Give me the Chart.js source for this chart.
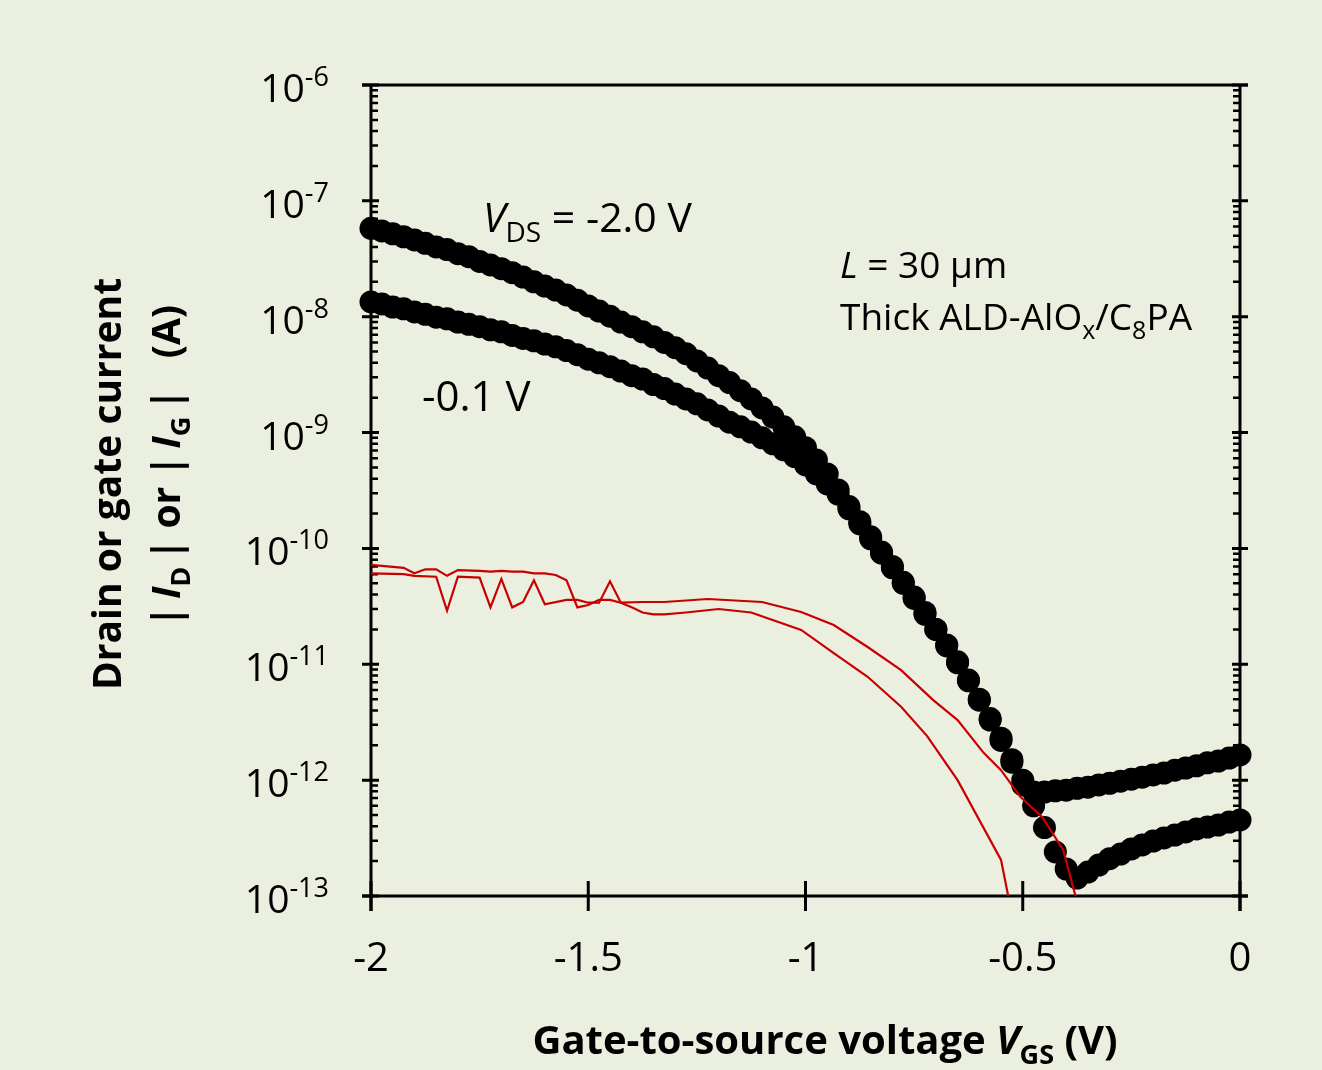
<!DOCTYPE html>
<html>
<head>
<meta charset="utf-8">
<script src="https://cdn.jsdelivr.net/npm/chart.js@4.4.0/dist/chart.umd.min.js"></script>
<style>
  html, body { margin: 0; padding: 0; background: #ebefdf; }
  #wrap { width: 1322px; height: 1070px; }
</style>
</head>
<body>
<div id="wrap"><canvas id="chart" width="1322" height="1070"></canvas></div>
<script>
// gate-to-source voltage sweep (V)
const vgs = [
  -2, -1.975, -1.95, -1.925, -1.9, -1.875, -1.85, -1.825, -1.8, -1.775,
  -1.75, -1.725, -1.7, -1.675, -1.65, -1.625, -1.6, -1.575, -1.55, -1.525,
  -1.5, -1.475, -1.45, -1.425, -1.4, -1.375, -1.35, -1.325, -1.3, -1.275,
  -1.25, -1.225, -1.2, -1.175, -1.15, -1.125, -1.1, -1.075, -1.05, -1.025,
  -1, -0.975, -0.95, -0.925, -0.9, -0.875, -0.85, -0.825, -0.8, -0.775,
  -0.75, -0.725, -0.7, -0.675, -0.65, -0.625, -0.6, -0.575, -0.55, -0.525,
  -0.5, -0.475, -0.45, -0.425, -0.4, -0.375, -0.35, -0.325, -0.3, -0.275,
  -0.25, -0.225, -0.2, -0.175, -0.15, -0.125, -0.1, -0.075, -0.05, -0.025,
  0,
];

// |ID| at VDS = -2.0 V (A)
const idVds2 = [
  5.8e-8, 5.5e-8, 5.2e-8, 4.9e-8, 4.6e-8, 4.3e-8, 4.0e-8, 3.8e-8, 3.5e-8, 3.3e-8,
  3.0e-8, 2.8e-8, 2.6e-8, 2.4e-8, 2.2e-8, 2.0e-8, 1.84e-8, 1.7e-8, 1.54e-8, 1.39e-8,
  1.24e-8, 1.12e-8, 1.01e-8, 9.0e-9, 8.2e-9, 7.4e-9, 6.7e-9, 6.0e-9, 5.4e-9, 4.8e-9,
  4.15e-9, 3.6e-9, 3.1e-9, 2.7e-9, 2.3e-9, 1.95e-9, 1.63e-9, 1.36e-9, 1.12e-9, 9.2e-10,
  7.4e-10, 5.8e-10, 4.4e-10, 3.2e-10, 2.3e-10, 1.7e-10, 1.26e-10, 9.3e-11, 7.0e-11, 5.1e-11,
  3.8e-11, 2.8e-11, 2.0e-11, 1.47e-11, 1.05e-11, 7.3e-12, 5.0e-12, 3.4e-12, 2.3e-12, 1.5e-12,
  1.0e-12, 7.9e-13, 7.9e-13, 8.1e-13, 8.2e-13, 8.5e-13, 8.7e-13, 9.1e-13, 9.4e-13, 9.8e-13,
  1.02e-12, 1.06e-12, 1.11e-12, 1.15e-12, 1.22e-12, 1.27e-12, 1.33e-12, 1.41e-12, 1.46e-12, 1.55e-12,
  1.65e-12,
];

// |ID| at VDS = -0.1 V (A)
const idVds01 = [
  1.34e-8, 1.29e-8, 1.21e-8, 1.17e-8, 1.1e-8, 1.05e-8, 9.9e-9, 9.6e-9, 9.0e-9, 8.6e-9,
  8.2e-9, 7.7e-9, 7.4e-9, 6.9e-9, 6.5e-9, 6.2e-9, 5.8e-9, 5.5e-9, 5.1e-9, 4.7e-9,
  4.3e-9, 4.0e-9, 3.7e-9, 3.4e-9, 3.1e-9, 2.9e-9, 2.6e-9, 2.4e-9, 2.15e-9, 1.95e-9,
  1.77e-9, 1.57e-9, 1.39e-9, 1.23e-9, 1.12e-9, 1.01e-9, 9.0e-10, 8.0e-10, 7.1e-10, 6.2e-10,
  5.25e-10, 4.4e-10, 3.6e-10, 2.95e-10, 2.2e-10, 1.63e-10, 1.21e-10, 9.1e-11, 6.8e-11, 5.0e-11,
  3.7e-11, 2.7e-11, 2.0e-11, 1.44e-11, 1.03e-11, 7.2e-12, 4.9e-12, 3.3e-12, 2.2e-12, 1.43e-12,
  9.1e-13, 6.0e-13, 3.9e-13, 2.4e-13, 1.71e-13, 1.43e-13, 1.61e-13, 1.85e-13, 2.1e-13, 2.3e-13,
  2.55e-13, 2.76e-13, 2.98e-13, 3.17e-13, 3.36e-13, 3.57e-13, 3.79e-13, 3.94e-13, 4.1e-13, 4.35e-13,
  4.53e-13,
];

// |IG| traces (noisy gate leakage), own voltage points
const vgGateA = [
  -2, -1.925, -1.9, -1.85, -1.825, -1.8, -1.75, -1.725, -1.7, -1.675,
  -1.65, -1.625, -1.6, -1.55, -1.525, -1.5, -1.475, -1.45, -1.425, -1.375,
  -1.325, -1.225, -1.1, -1.01, -0.935, -0.857, -0.78, -0.706, -0.65, -0.59,
  -0.55, -0.505, -0.455, -0.407, -0.378, -0.372,
];
const igGateA = [
  6.1e-11, 6.0e-11, 5.8e-11, 5.7e-11, 2.9e-11, 5.7e-11, 5.6e-11, 3.1e-11, 5.45e-11, 3.1e-11,
  3.45e-11, 5.3e-11, 3.3e-11, 3.6e-11, 3.6e-11, 3.4e-11, 3.4e-11, 5.2e-11, 3.4e-11, 3.45e-11,
  3.45e-11, 3.66e-11, 3.45e-11, 2.83e-11, 2.18e-11, 1.41e-11, 8.9e-12, 4.9e-12, 3.3e-12, 1.72e-12,
  1.22e-12, 7.15e-13, 4.8e-13, 2.5e-13, 9.8e-14, 6.9e-14,
];
const vgGateB = [
  -2, -1.925, -1.9, -1.875, -1.85, -1.825, -1.8, -1.75, -1.725, -1.7,
  -1.675, -1.65, -1.625, -1.6, -1.575, -1.55, -1.525, -1.5, -1.475, -1.45,
  -1.425, -1.4, -1.375, -1.35, -1.325, -1.275, -1.2, -1.125, -1.01, -0.935,
  -0.857, -0.78, -0.72, -0.65, -0.55, -0.533, -0.525,
];
const igGateB = [
  7.2e-11, 6.8e-11, 6.1e-11, 6.6e-11, 6.6e-11, 5.8e-11, 6.5e-11, 6.4e-11, 6.3e-11, 6.4e-11,
  6.3e-11, 6.3e-11, 6.1e-11, 6.1e-11, 5.9e-11, 5.3e-11, 3.1e-11, 3.25e-11, 3.6e-11, 3.6e-11,
  3.4e-11, 3.1e-11, 2.8e-11, 2.7e-11, 2.7e-11, 2.8e-11, 3.0e-11, 2.8e-11, 1.98e-11, 1.25e-11,
  7.8e-12, 4.3e-12, 2.4e-12, 1.0e-12, 2.05e-13, 9.8e-14, 6.2e-14,
];

const xTicks = [-2, -1.5, -1, -0.5, 0];
const yExponents = [-6, -7, -8, -9, -10, -11, -12, -13];

const BG = "#ebefdf";
const RED = "#c80000";
const FONT = "'Open Sans', 'DejaVu Sans', sans-serif";

function pairs(xs, ys) {
  return xs.map((v, i) => ({ x: v, y: ys[i] }));
}

// draw a run of text pieces (for italics, sub- and superscripts)
function drawRich(ctx, parts, x, y, align) {
  let w = 0;
  for (const p of parts) {
    ctx.font = p.f;
    w += ctx.measureText(p.t).width;
  }
  let cx = x;
  if (align === "center") cx = x - w / 2;
  if (align === "right") cx = x - w;
  for (const p of parts) {
    ctx.font = p.f;
    ctx.fillText(p.t, cx, y + (p.dy || 0));
    cx += ctx.measureText(p.t).width;
  }
}

const decor = {
  id: "decor",
  beforeDraw(chart) {
    const ctx = chart.ctx;
    ctx.save();
    ctx.fillStyle = BG;
    ctx.fillRect(0, 0, chart.width, chart.height);
    ctx.restore();
  },
  beforeDatasetsDraw(chart) {
    const { ctx, chartArea: a, scales } = chart;
    const xs = scales.x;
    const ys = scales.y;
    ctx.save();
    ctx.strokeStyle = "#000";
    ctx.lineCap = "butt";
    // frame
    ctx.lineWidth = 3;
    ctx.beginPath();
    ctx.moveTo(a.left - 9, a.top); ctx.lineTo(a.right + 8, a.top);
    ctx.moveTo(a.left - 9, a.bottom); ctx.lineTo(a.right + 8, a.bottom);
    ctx.moveTo(a.left, a.top); ctx.lineTo(a.left, a.bottom + 15);
    ctx.moveTo(a.right, a.top); ctx.lineTo(a.right, a.bottom + 15);
    ctx.stroke();
    // x ticks (crossing the bottom axis)
    ctx.beginPath();
    for (const v of xTicks) {
      const px = xs.getPixelForValue(v);
      ctx.moveTo(px, a.bottom - 15); ctx.lineTo(px, a.bottom + 15);
    }
    ctx.stroke();
    // y major ticks on both sides
    ctx.beginPath();
    for (const e of yExponents) {
      const py = ys.getPixelForValue(Math.pow(10, e));
      ctx.moveTo(a.left - 9, py); ctx.lineTo(a.left + 8, py);
      ctx.moveTo(a.right - 8, py); ctx.lineTo(a.right + 8, py);
    }
    ctx.stroke();
    // y minor ticks, inside only
    ctx.lineWidth = 2.5;
    ctx.beginPath();
    for (const e of yExponents.slice(1)) {
      for (let m = 2; m <= 9; m++) {
        const py = ys.getPixelForValue(m * Math.pow(10, e));
        ctx.moveTo(a.left, py); ctx.lineTo(a.left + 7, py);
        ctx.moveTo(a.right - 7, py); ctx.lineTo(a.right, py);
      }
    }
    ctx.stroke();
    ctx.restore();
  },
  afterDraw(chart) {
    const { ctx, scales } = chart;
    const ys = scales.y;
    ctx.save();
    ctx.fillStyle = "#000";
    ctx.textBaseline = "alphabetic";

    // y tick labels 10^n
    for (const e of yExponents) {
      const py = ys.getPixelForValue(Math.pow(10, e));
      drawRich(ctx, [
        { t: "10", f: "39px " + FONT },
        { t: "-" + String(-e), f: "27px " + FONT, dy: -16 },
      ], 329, py + 17, "right");
    }

    // annotations
    drawRich(ctx, [
      { t: "V", f: "italic 41px " + FONT },
      { t: "DS", f: "28px " + FONT, dy: 10 },
      { t: " = -2.0 V", f: "41px " + FONT },
    ], 483, 232, "left");
    drawRich(ctx, [{ t: "-0.1 V", f: "42px " + FONT }], 422, 411, "left");
    drawRich(ctx, [
      { t: "L", f: "italic 37px " + FONT },
      { t: " = 30 \u00b5m", f: "37px " + FONT },
    ], 840, 278, "left");
    drawRich(ctx, [
      { t: "Thick ALD-AlO", f: "37px " + FONT },
      { t: "x", f: "25px " + FONT, dy: 9 },
      { t: "/C", f: "37px " + FONT },
      { t: "8", f: "25px " + FONT, dy: 9 },
      { t: "PA", f: "37px " + FONT },
    ], 840, 330, "left");

    // x title
    drawRich(ctx, [
      { t: "Gate-to-source voltage ", f: "bold 40px " + FONT },
      { t: "V", f: "italic bold 40px " + FONT },
      { t: "GS", f: "bold 27px " + FONT, dy: 10 },
      { t: " (V)", f: "bold 40px " + FONT },
    ], 825, 1054, "center");

    // y title, two rotated lines
    ctx.save();
    ctx.translate(121, 484);
    ctx.rotate(-Math.PI / 2);
    drawRich(ctx, [{ t: "Drain or gate current", f: "bold 39px " + FONT }], 0, 0, "center");
    ctx.restore();
    ctx.save();
    ctx.translate(180, 466);
    ctx.rotate(-Math.PI / 2);
    drawRich(ctx, [
      { t: "|\u2009", f: "bold 39px " + FONT },
      { t: "I", f: "italic bold 39px " + FONT },
      { t: "D", f: "bold 27px " + FONT, dy: 10 },
      { t: "\u2009| or |\u2009", f: "bold 39px " + FONT },
      { t: "I", f: "italic bold 39px " + FONT },
      { t: "G", f: "bold 27px " + FONT, dy: 10 },
      { t: "\u2009|   (A)", f: "bold 39px " + FONT },
    ], 0, 0, "center");
    ctx.restore();

    ctx.restore();
  },
};

new Chart(document.getElementById("chart"), {
  type: "scatter",
  data: {
    datasets: [
      {
        label: "|IG| sweep A",
        data: pairs(vgGateA, igGateA),
        showLine: true,
        borderColor: RED,
        borderWidth: 2.2,
        pointRadius: 0,
        tension: 0,
      },
      {
        label: "|IG| sweep B",
        data: pairs(vgGateB, igGateB),
        showLine: true,
        borderColor: RED,
        borderWidth: 2.2,
        pointRadius: 0,
        tension: 0,
      },
      {
        label: "VDS = -2.0 V",
        data: pairs(vgs, idVds2),
        showLine: false,
        pointRadius: 11.5,
        pointBackgroundColor: "#000",
        pointBorderWidth: 0,
        clip: false,
      },
      {
        label: "VDS = -0.1 V",
        data: pairs(vgs, idVds01),
        showLine: false,
        pointRadius: 11.5,
        pointBackgroundColor: "#000",
        pointBorderWidth: 0,
        clip: false,
      },
    ],
  },
  options: {
    responsive: false,
    animation: false,
    layout: { padding: { left: 0, right: 82, top: 85, bottom: 0 } },
    plugins: {
      legend: { display: false },
      tooltip: { enabled: false },
    },
    scales: {
      x: {
        type: "linear",
        min: -2,
        max: 0,
        grid: { display: false, drawTicks: false },
        border: { display: false },
        afterFit: (scale) => { scale.height = 174; },
        afterBuildTicks: (scale) => {
          scale.ticks = xTicks.map((v) => ({ value: v }));
        },
        ticks: {
          autoSkip: false,
          maxRotation: 0,
          padding: 40,
          color: "#000",
          font: { family: FONT, size: 40 },
          callback: (v) => String(v),
        },
      },
      y: {
        type: "logarithmic",
        min: 1e-13,
        max: 1e-6,
        grid: { display: false, drawTicks: false },
        border: { display: false },
        ticks: { display: false },
        afterFit: (scale) => { scale.width = 371; },
      },
    },
  },
  plugins: [decor],
});
</script>
</body>
</html>
